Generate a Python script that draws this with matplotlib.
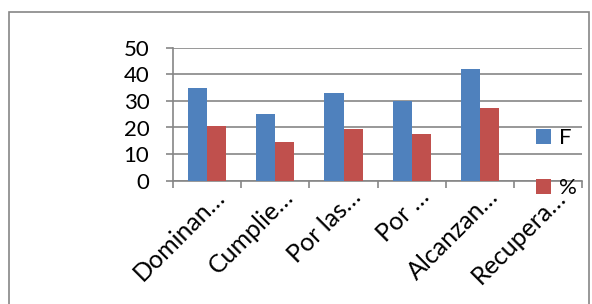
import matplotlib.pyplot as plt
import numpy as np
from matplotlib.patches import Rectangle
from matplotlib.transforms import ScaledTranslation

plt.rcParams['font.family'] = ['Lato', 'DejaVu Sans']

categorias = ['Dominan…', 'Cumplie…', 'Por las…', 'Por …', 'Alcanzan…', 'Recupera…']
F = [35, 25, 33, 30, 42, 0]
porcentaje = [20.7, 14.7, 19.4, 17.7, 27.2, 0]

W, H = 592, 304
fig = plt.figure(figsize=(W / 100, H / 100), dpi=100)
ax = fig.add_axes([173 / W, 1 - 180.7 / H, (582.3 - 173) / W, (180.7 - 47.7) / H])

x = np.arange(len(categorias))
bw = 0.28
ax.bar(x - bw / 2, F, bw, color='#4F81BD', label='F', zorder=3)
ax.bar(x + bw / 2, porcentaje, bw, color='#C0504D', label='%', zorder=3)

ax.set_xlim(-0.5, len(categorias) - 0.5)
ax.set_ylim(0, 50)
ax.set_yticks(range(0, 51, 10))
ax.grid(axis='y', color='#868686', linewidth=1.2, zorder=0)

for s in ['top', 'right']:
    ax.spines[s].set_visible(False)
for s in ['left', 'bottom']:
    ax.spines[s].set_color('#868686')
    ax.spines[s].set_linewidth(1.2)

ax.tick_params(axis='y', length=5, width=1.2, color='#868686', pad=12, labelsize=16)
ax.set_xticks(x)
ax.set_xticklabels(categorias, rotation=45, ha='right', va='center',
                   rotation_mode='anchor', fontsize=18)
ax.tick_params(axis='x', which='major', length=0, pad=9)
# desplazar etiquetas a la derecha como en Excel
desp = ScaledTranslation(14 / 100, 0, fig.dpi_scale_trans)
for lab in ax.get_xticklabels():
    lab.set_transform(lab.get_transform() + desp)
ax.set_xticks(np.arange(-0.5, len(categorias), 1), minor=True)
ax.tick_params(axis='x', which='minor', length=5, width=1.2, color='#868686', direction='out')

leg = fig.legend(loc='upper left', bbox_to_anchor=(536 / W, 1 - 128 / H),
                 frameon=False, fontsize=16, handlelength=0.68, handleheight=0.68,
                 handletextpad=0.35, labelspacing=1.36, borderpad=0, borderaxespad=0)

# borde del grafico
fig.add_artist(Rectangle((9 / W, -0.1), 580 / W, 1.1 - 12.5 / H, transform=fig.transFigure,
                         fill=False, edgecolor='#868686', linewidth=1.2))

fig.savefig('out.png', dpi=100)
